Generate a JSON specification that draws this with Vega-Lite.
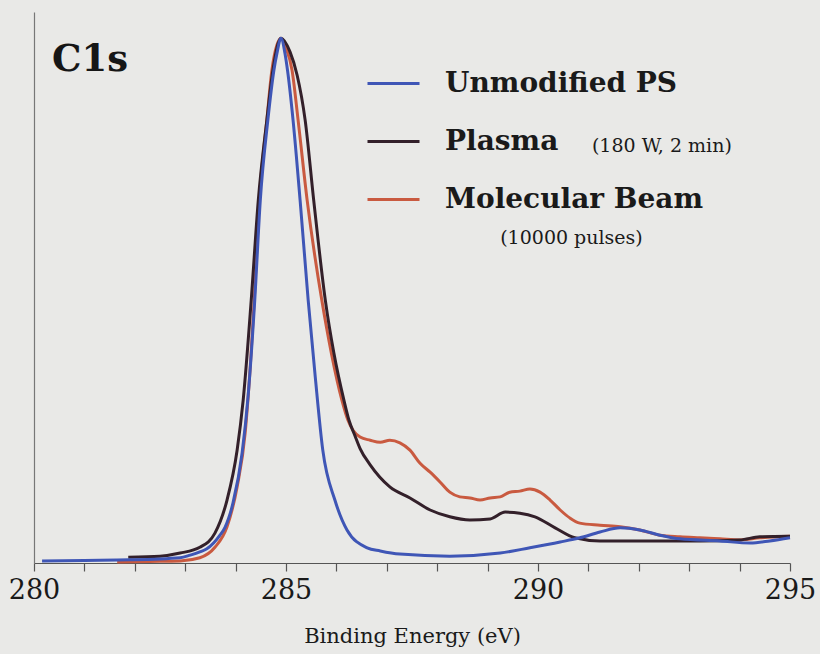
{
  "$schema": "https://vega.github.io/schema/vega-lite/v6.json",
  "width": 756,
  "height": 551,
  "autosize": {"type": "none"},
  "padding": {"left": 34, "top": 12, "right": 30, "bottom": 91},
  "background": "#e9e9e7",
  "title": {
    "text": "C1s",
    "anchor": "start",
    "orient": "top",
    "font": "DejaVu Serif",
    "fontSize": 37,
    "fontWeight": "bold",
    "color": "#161616",
    "baseline": "alphabetic",
    "offset": 0,
    "dx": 18,
    "dy": 96,
    "frame": "group"
  },
  "config": {
    "view": {"stroke": null},
    "font": "DejaVu Serif"
  },
  "datasets": {
    "spectra": [
      {"sample": "Molecular Beam", "energy": 281.65, "intensity": 0.2},
      {"sample": "Molecular Beam", "energy": 282.3, "intensity": 0.3},
      {"sample": "Molecular Beam", "energy": 282.9, "intensity": 0.4},
      {"sample": "Molecular Beam", "energy": 283.29, "intensity": 1.0},
      {"sample": "Molecular Beam", "energy": 283.59, "intensity": 3.0},
      {"sample": "Molecular Beam", "energy": 283.83, "intensity": 6.9},
      {"sample": "Molecular Beam", "energy": 284.03, "intensity": 14.5},
      {"sample": "Molecular Beam", "energy": 284.19, "intensity": 24.8},
      {"sample": "Molecular Beam", "energy": 284.29, "intensity": 37.3},
      {"sample": "Molecular Beam", "energy": 284.37, "intensity": 50.1},
      {"sample": "Molecular Beam", "energy": 284.47, "intensity": 69.1},
      {"sample": "Molecular Beam", "energy": 284.62, "intensity": 84.4},
      {"sample": "Molecular Beam", "energy": 284.72, "intensity": 93.9},
      {"sample": "Molecular Beam", "energy": 284.82, "intensity": 98.7},
      {"sample": "Molecular Beam", "energy": 284.9, "intensity": 100},
      {"sample": "Molecular Beam", "energy": 285.0, "intensity": 98.2},
      {"sample": "Molecular Beam", "energy": 285.12, "intensity": 93.9},
      {"sample": "Molecular Beam", "energy": 285.24, "intensity": 84.4},
      {"sample": "Molecular Beam", "energy": 285.42, "intensity": 69.1},
      {"sample": "Molecular Beam", "energy": 285.71, "intensity": 50.1},
      {"sample": "Molecular Beam", "energy": 285.9, "intensity": 40.0},
      {"sample": "Molecular Beam", "energy": 286.11, "intensity": 31.0},
      {"sample": "Molecular Beam", "energy": 286.23, "intensity": 27.2},
      {"sample": "Molecular Beam", "energy": 286.33, "intensity": 25.3},
      {"sample": "Molecular Beam", "energy": 286.47, "intensity": 24.0},
      {"sample": "Molecular Beam", "energy": 286.67, "intensity": 23.4},
      {"sample": "Molecular Beam", "energy": 286.87, "intensity": 23.0},
      {"sample": "Molecular Beam", "energy": 287.06, "intensity": 23.4},
      {"sample": "Molecular Beam", "energy": 287.26, "intensity": 22.9},
      {"sample": "Molecular Beam", "energy": 287.46, "intensity": 21.5},
      {"sample": "Molecular Beam", "energy": 287.66, "intensity": 19.0},
      {"sample": "Molecular Beam", "energy": 287.86, "intensity": 17.3},
      {"sample": "Molecular Beam", "energy": 288.06, "intensity": 15.4},
      {"sample": "Molecular Beam", "energy": 288.25, "intensity": 13.5},
      {"sample": "Molecular Beam", "energy": 288.45, "intensity": 12.6},
      {"sample": "Molecular Beam", "energy": 288.65, "intensity": 12.4},
      {"sample": "Molecular Beam", "energy": 288.85, "intensity": 12.0},
      {"sample": "Molecular Beam", "energy": 289.05, "intensity": 12.4},
      {"sample": "Molecular Beam", "energy": 289.25, "intensity": 12.6},
      {"sample": "Molecular Beam", "energy": 289.44, "intensity": 13.5},
      {"sample": "Molecular Beam", "energy": 289.64, "intensity": 13.7},
      {"sample": "Molecular Beam", "energy": 289.84, "intensity": 14.1},
      {"sample": "Molecular Beam", "energy": 290.04, "intensity": 13.5},
      {"sample": "Molecular Beam", "energy": 290.24, "intensity": 12.0},
      {"sample": "Molecular Beam", "energy": 290.44, "intensity": 10.1},
      {"sample": "Molecular Beam", "energy": 290.63, "intensity": 8.6},
      {"sample": "Molecular Beam", "energy": 290.83, "intensity": 7.6},
      {"sample": "Molecular Beam", "energy": 291.23, "intensity": 7.2},
      {"sample": "Molecular Beam", "energy": 291.63, "intensity": 6.9},
      {"sample": "Molecular Beam", "energy": 292.02, "intensity": 6.3},
      {"sample": "Molecular Beam", "energy": 292.42, "intensity": 5.3},
      {"sample": "Molecular Beam", "energy": 292.82, "intensity": 5.0},
      {"sample": "Molecular Beam", "energy": 293.21, "intensity": 4.8},
      {"sample": "Molecular Beam", "energy": 293.61, "intensity": 4.6},
      {"sample": "Molecular Beam", "energy": 294.01, "intensity": 4.4},
      {"sample": "Molecular Beam", "energy": 294.4, "intensity": 4.8},
      {"sample": "Molecular Beam", "energy": 295.0, "intensity": 5.1},

      {"sample": "Plasma", "energy": 281.87, "intensity": 1.1},
      {"sample": "Plasma", "energy": 282.5, "intensity": 1.3},
      {"sample": "Plasma", "energy": 282.9, "intensity": 1.9},
      {"sample": "Plasma", "energy": 283.29, "intensity": 3.0},
      {"sample": "Plasma", "energy": 283.59, "intensity": 5.7},
      {"sample": "Plasma", "energy": 283.83, "intensity": 12.0},
      {"sample": "Plasma", "energy": 284.03, "intensity": 21.5},
      {"sample": "Plasma", "energy": 284.15, "intensity": 31.0},
      {"sample": "Plasma", "energy": 284.31, "intensity": 50.1},
      {"sample": "Plasma", "energy": 284.45, "intensity": 69.1},
      {"sample": "Plasma", "energy": 284.62, "intensity": 84.4},
      {"sample": "Plasma", "energy": 284.74, "intensity": 93.9},
      {"sample": "Plasma", "energy": 284.9, "intensity": 100},
      {"sample": "Plasma", "energy": 285.08, "intensity": 97.4},
      {"sample": "Plasma", "energy": 285.22, "intensity": 93.0},
      {"sample": "Plasma", "energy": 285.38, "intensity": 84.4},
      {"sample": "Plasma", "energy": 285.55, "intensity": 69.1},
      {"sample": "Plasma", "energy": 285.78, "intensity": 50.1},
      {"sample": "Plasma", "energy": 285.95, "intensity": 40.0},
      {"sample": "Plasma", "energy": 286.15, "intensity": 31.0},
      {"sample": "Plasma", "energy": 286.25, "intensity": 27.2},
      {"sample": "Plasma", "energy": 286.37, "intensity": 24.2},
      {"sample": "Plasma", "energy": 286.47, "intensity": 21.8},
      {"sample": "Plasma", "energy": 286.67, "intensity": 18.7},
      {"sample": "Plasma", "energy": 287.06, "intensity": 14.5},
      {"sample": "Plasma", "energy": 287.46, "intensity": 12.4},
      {"sample": "Plasma", "energy": 287.86, "intensity": 10.1},
      {"sample": "Plasma", "energy": 288.25, "intensity": 8.8},
      {"sample": "Plasma", "energy": 288.65, "intensity": 8.2},
      {"sample": "Plasma", "energy": 289.05, "intensity": 8.4},
      {"sample": "Plasma", "energy": 289.35, "intensity": 9.7},
      {"sample": "Plasma", "energy": 289.64, "intensity": 9.5},
      {"sample": "Plasma", "energy": 289.94, "intensity": 8.8},
      {"sample": "Plasma", "energy": 290.34, "intensity": 6.7},
      {"sample": "Plasma", "energy": 290.73, "intensity": 4.8},
      {"sample": "Plasma", "energy": 291.23, "intensity": 4.2},
      {"sample": "Plasma", "energy": 292.22, "intensity": 4.2},
      {"sample": "Plasma", "energy": 293.21, "intensity": 4.2},
      {"sample": "Plasma", "energy": 294.01, "intensity": 4.4},
      {"sample": "Plasma", "energy": 294.4, "intensity": 5.0},
      {"sample": "Plasma", "energy": 295.0, "intensity": 5.1},

      {"sample": "Unmodified PS", "energy": 280.16, "intensity": 0.4},
      {"sample": "Unmodified PS", "energy": 281.0, "intensity": 0.5},
      {"sample": "Unmodified PS", "energy": 281.9, "intensity": 0.6},
      {"sample": "Unmodified PS", "energy": 282.9, "intensity": 1.0},
      {"sample": "Unmodified PS", "energy": 283.1, "intensity": 1.5},
      {"sample": "Unmodified PS", "energy": 283.29, "intensity": 2.1},
      {"sample": "Unmodified PS", "energy": 283.43, "intensity": 2.7},
      {"sample": "Unmodified PS", "energy": 283.69, "intensity": 5.3},
      {"sample": "Unmodified PS", "energy": 283.79, "intensity": 6.8},
      {"sample": "Unmodified PS", "energy": 283.95, "intensity": 11.5},
      {"sample": "Unmodified PS", "energy": 284.13, "intensity": 21.0},
      {"sample": "Unmodified PS", "energy": 284.25, "intensity": 32.0},
      {"sample": "Unmodified PS", "energy": 284.38, "intensity": 50.1},
      {"sample": "Unmodified PS", "energy": 284.49, "intensity": 69.1},
      {"sample": "Unmodified PS", "energy": 284.64, "intensity": 84.4},
      {"sample": "Unmodified PS", "energy": 284.76, "intensity": 93.9},
      {"sample": "Unmodified PS", "energy": 284.82, "intensity": 97.1},
      {"sample": "Unmodified PS", "energy": 284.9, "intensity": 100},
      {"sample": "Unmodified PS", "energy": 284.98, "intensity": 97.1},
      {"sample": "Unmodified PS", "energy": 285.03, "intensity": 93.9},
      {"sample": "Unmodified PS", "energy": 285.14, "intensity": 84.4},
      {"sample": "Unmodified PS", "energy": 285.28, "intensity": 69.1},
      {"sample": "Unmodified PS", "energy": 285.44, "intensity": 50.1},
      {"sample": "Unmodified PS", "energy": 285.58, "intensity": 35.5},
      {"sample": "Unmodified PS", "energy": 285.73, "intensity": 21.5},
      {"sample": "Unmodified PS", "energy": 285.97, "intensity": 12.0},
      {"sample": "Unmodified PS", "energy": 286.21, "intensity": 6.3},
      {"sample": "Unmodified PS", "energy": 286.61, "intensity": 2.9},
      {"sample": "Unmodified PS", "energy": 286.87, "intensity": 2.3},
      {"sample": "Unmodified PS", "energy": 287.26, "intensity": 1.7},
      {"sample": "Unmodified PS", "energy": 288.25, "intensity": 1.3},
      {"sample": "Unmodified PS", "energy": 289.25, "intensity": 1.9},
      {"sample": "Unmodified PS", "energy": 289.84, "intensity": 2.9},
      {"sample": "Unmodified PS", "energy": 290.44, "intensity": 4.0},
      {"sample": "Unmodified PS", "energy": 290.83, "intensity": 4.8},
      {"sample": "Unmodified PS", "energy": 291.23, "intensity": 5.9},
      {"sample": "Unmodified PS", "energy": 291.63, "intensity": 6.7},
      {"sample": "Unmodified PS", "energy": 292.02, "intensity": 6.3},
      {"sample": "Unmodified PS", "energy": 292.42, "intensity": 5.3},
      {"sample": "Unmodified PS", "energy": 292.82, "intensity": 4.6},
      {"sample": "Unmodified PS", "energy": 293.61, "intensity": 4.2},
      {"sample": "Unmodified PS", "energy": 294.21, "intensity": 3.8},
      {"sample": "Unmodified PS", "energy": 294.6, "intensity": 4.2},
      {"sample": "Unmodified PS", "energy": 295.0, "intensity": 4.8}
    ],
    "notes": [
      {"energy": 291.07, "intensity": 79.5, "note": "(180 W, 2 min)"},
      {"energy": 289.25, "intensity": 62.0, "note": "(10000 pulses)"}
    ]
  },
  "layer": [
    {
      "data": {"name": "spectra"},
      "mark": {"type": "line", "strokeWidth": 3, "strokeJoin": "round", "interpolate": "monotone"},
      "encoding": {
        "x": {
          "field": "energy",
          "type": "quantitative",
          "scale": {"domain": [280, 295], "nice": false},
          "axis": {
            "title": "Binding Energy (eV)",
            "values": [280, 281, 282, 283, 284, 285, 286, 287, 288, 289, 290, 291, 292, 293, 294, 295],
            "labelExpr": "datum.value % 5 === 0 ? datum.label : ''",
            "grid": false,
            "domainColor": "#555555",
            "domainWidth": 1.2,
            "tickColor": "#555555",
            "tickWidth": 1.2,
            "tickSize": 8,
            "labelFont": "DejaVu Serif",
            "labelFontSize": 27,
            "labelColor": "#1a1a1a",
            "labelPadding": 6,
            "labelFlush": false,
            "labelOverlap": false,
            "titleFont": "DejaVu Serif",
            "titleFontSize": 21,
            "titleFontWeight": "normal",
            "titleColor": "#1a1a1a",
            "titlePadding": 22
          }
        },
        "y": {
          "field": "intensity",
          "type": "quantitative",
          "scale": {"domain": [0, 105], "nice": false},
          "axis": {
            "title": null,
            "labels": false,
            "ticks": false,
            "grid": false,
            "domainColor": "#777777",
            "domainWidth": 1.2
          }
        },
        "color": {
          "field": "sample",
          "type": "nominal",
          "scale": {
            "domain": ["Unmodified PS", "Plasma", "Molecular Beam"],
            "range": ["#3f56b6", "#33202a", "#c95a40"]
          },
          "legend": {
            "title": null,
            "orient": "none",
            "legendX": 332,
            "legendY": 44,
            "symbolType": "stroke",
            "symbolSize": 2704,
            "symbolStrokeWidth": 3,
            "labelFont": "DejaVu Serif",
            "labelFontSize": 28,
            "labelFontWeight": "bold",
            "labelColor": "#1a1a1a",
            "labelOffset": 24,
            "labelLimit": 400,
            "rowPadding": 16,
            "padding": 0
          }
        },
        "order": {"field": "energy", "type": "quantitative"}
      }
    },
    {
      "data": {"name": "notes"},
      "mark": {"type": "text", "align": "left", "baseline": "middle", "font": "DejaVu Serif", "fontSize": 19, "color": "#1a1a1a"},
      "encoding": {
        "x": {"field": "energy", "type": "quantitative"},
        "y": {"field": "intensity", "type": "quantitative"},
        "text": {"field": "note"}
      }
    }
  ]
}
